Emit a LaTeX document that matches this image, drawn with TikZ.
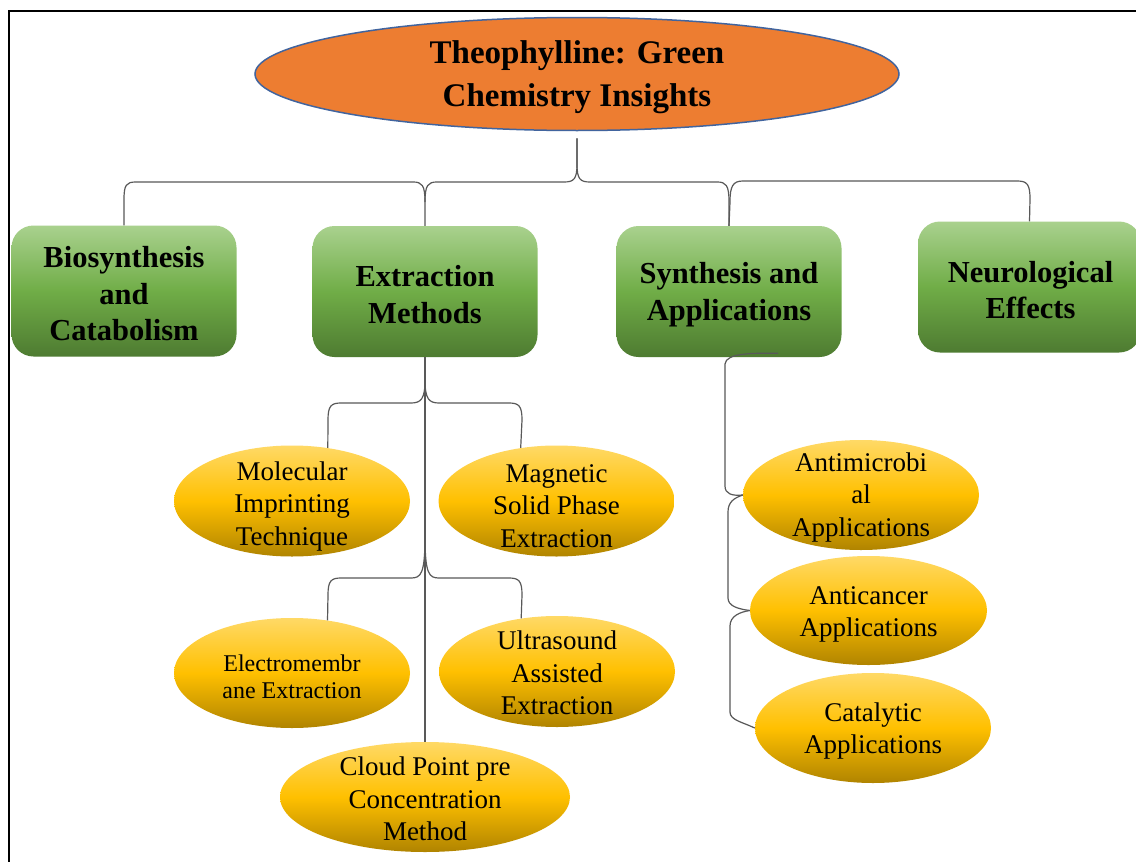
\documentclass[tikz,border=0pt]{standalone}
\usepackage{fontspec}
\setmainfont{Liberation Serif}
\usetikzlibrary{shapes.geometric,calc}
\definecolor{orangeF}{HTML}{ED7D31}
\definecolor{blueB}{HTML}{41649E}
\definecolor{gTop}{HTML}{A9D18E}
\definecolor{gMid}{HTML}{70AD47}
\definecolor{gBot}{HTML}{4E7B31}
\definecolor{yTop}{HTML}{FFD966}
\definecolor{yMid}{HTML}{FFC000}
\definecolor{yBot}{HTML}{B08400}
\definecolor{lineC}{HTML}{595959}
\begin{document}
\begin{tikzpicture}[x=1pt,y=-1pt,
  catbox/.style={rectangle, rounded corners=22pt, minimum width=225pt, minimum height=131pt,
    top color=gTop, bottom color=gBot, middle color=gMid, inner sep=0pt},
  boxtxt/.style={align=center, font=\fontsize{30.5}{36.5}\selectfont\bfseries, inner sep=0pt},
  leaf/.style={ellipse, minimum width=236pt, minimum height=111pt,
    top color=yTop, bottom color=yBot, middle color=yMid, inner sep=0pt},
  leaftxt/.style={align=center, font=\fontsize{27}{32.5}\selectfont, inner sep=0pt},
  smalltxt/.style={align=center, font=\fontsize{24}{27}\selectfont, inner sep=0pt},
  titleE/.style={ellipse, minimum width=644pt, minimum height=113pt, fill=orangeF,
    draw=blueB, line width=1.5pt, inner sep=0pt},
  titleT/.style={align=center, font=\fontsize{33}{43}\selectfont\bfseries, inner sep=0pt},
  conn/.style={draw=lineC, line width=1.2pt}]
\useasboundingbox (0,0) rectangle (1136,862);
\fill[white] (0,0) rectangle (1136,862);
% frame
\draw[line width=2pt] (9,862) -- (9,11) -- (1136,11);

% title
\node[titleE] (title) at (577,74) {};
\node[titleT] (titletxt) at (577,77) {Theophylline: Green\\Chemistry Insights};

% category boxes
\node[catbox] (bio) at (124,291) {};
\node[boxtxt] (biotxt) at (124,294) {Biosynthesis\\and\\Catabolism};
\node[catbox] (extr) at (425,291.5) {};
\node[boxtxt] (extrtxt) at (425,294.5) {Extraction\\Methods};
\node[catbox] (synth) at (729,291.5) {};
\node[boxtxt] (synthtxt) at (729,294.5) {Synthesis and\\Applications};
\node[catbox, minimum width=223pt] (neuro) at (1029.5,287) {};
\node[boxtxt] (neurotxt) at (1030.5,290) {Neurological\\Effects};

% leaves
\node[leaf] (mol) at (292,501) {};
\node[leaftxt] (moltxt) at (292,506.5) {Molecular\\Imprinting\\Technique};
\node[leaf] (mag) at (556.5,501) {};
\node[leaftxt] (magtxt) at (556.5,506) {Magnetic\\Solid Phase\\Extraction};
\node[leaf, minimum height=110pt] (elec) at (292,673) {};
\node[smalltxt] (electxt) at (292,676.5) {Electromembr\\ane Extraction};
\node[leaf] (ultra) at (557,671.5) {};
\node[leaftxt] (ultratxt) at (557,673) {Ultrasound\\Assisted\\Extraction};
\node[leaf, minimum width=290pt, minimum height=110pt] (cloud) at (425,797) {};
\node[leaftxt] (cloudtxt) at (425,799) {Cloud Point pre\\Concentration\\Method};
\node[leaf, minimum height=110pt] (anti) at (861,495) {};
\node[leaftxt] (antitxt) at (861,497.5) {Antimicrobi\\al\\Applications};
\node[leaf, minimum width=237pt, minimum height=109pt] (canc) at (868.5,610.5) {};
\node[leaftxt] (canctxt) at (868.5,614.5) {Anticancer\\Applications};
\node[leaf, minimum height=110pt] (cat) at (873,728) {};
\node[leaftxt] (cattxt) at (873,731) {Catalytic\\Applications};

% top brace
\draw[conn] ($(title.south)+(0,7)$) -- (577,164) .. controls (577,179) and (574,182) .. (564,182)
  -- (437,182) .. controls (428,182) and (425,185) .. (425,202) -- (extr.north);
\draw[conn] (bio.north) -- (124,200) .. controls (124,185) and (126,182) .. (136,182)
  -- (413,182) .. controls (422,182) and (425,185) .. (425,202);
\draw[conn] ($(title.south)+(0,7)$) -- (577,164) .. controls (577,179) and (580,182) .. (590,182)
  -- (717,182) .. controls (726,182) and (729,185) .. (729,202) -- (synth.north);
\draw[conn] (synth.north) -- (730,202) .. controls (730,186) and (733,181) .. (743,181)
  -- (1017,181) .. controls (1027,181) and (1030,184) .. (1030,199) -- (neuro.north);

% extraction connectors
\draw[conn] (extr.south) -- (cloud.north);
\draw[conn] (extr.south) -- (425,380) .. controls (425,399) and (421,403) .. (411,403)
  -- (341,403) .. controls (331,403) and (328,406) .. (328,420) -- (mol.56);
\draw[conn] (extr.south) -- (425,380) .. controls (425,399) and (429,403) .. (439,403)
  -- (509,403) .. controls (519,403) and (522,406) .. (522,420) -- (mag.124);
\coordinate (tip2) at (425,536);
\draw[conn] (tip2) .. controls (425,574) and (421,578) .. (411,578)
  -- (341,578) .. controls (331,578) and (328,581) .. (328,595) -- (elec.56);
\draw[conn] (tip2) .. controls (425,574) and (429,578) .. (439,578)
  -- (509,578) .. controls (519,578) and (522,581) .. (522,595) -- (ultra.124);

% synthesis chain
\draw[conn] ($(synth.south)+(49,-4)$) .. controls (752,353) and (726,353) .. (725,364)
  -- (725,486) .. controls (725,494) and (732,496) .. (anti.west);
\draw[conn] (anti.west) .. controls (734,498) and (728,502) .. (728,512)
  -- (728,598) .. controls (728,606) and (738,609) .. (canc.west);
\draw[conn] (canc.west) .. controls (740,612) and (730,616) .. (730,626)
  -- (730,712) .. controls (730,720) and (742,722) .. (cat.west);
\end{tikzpicture}
\end{document}
